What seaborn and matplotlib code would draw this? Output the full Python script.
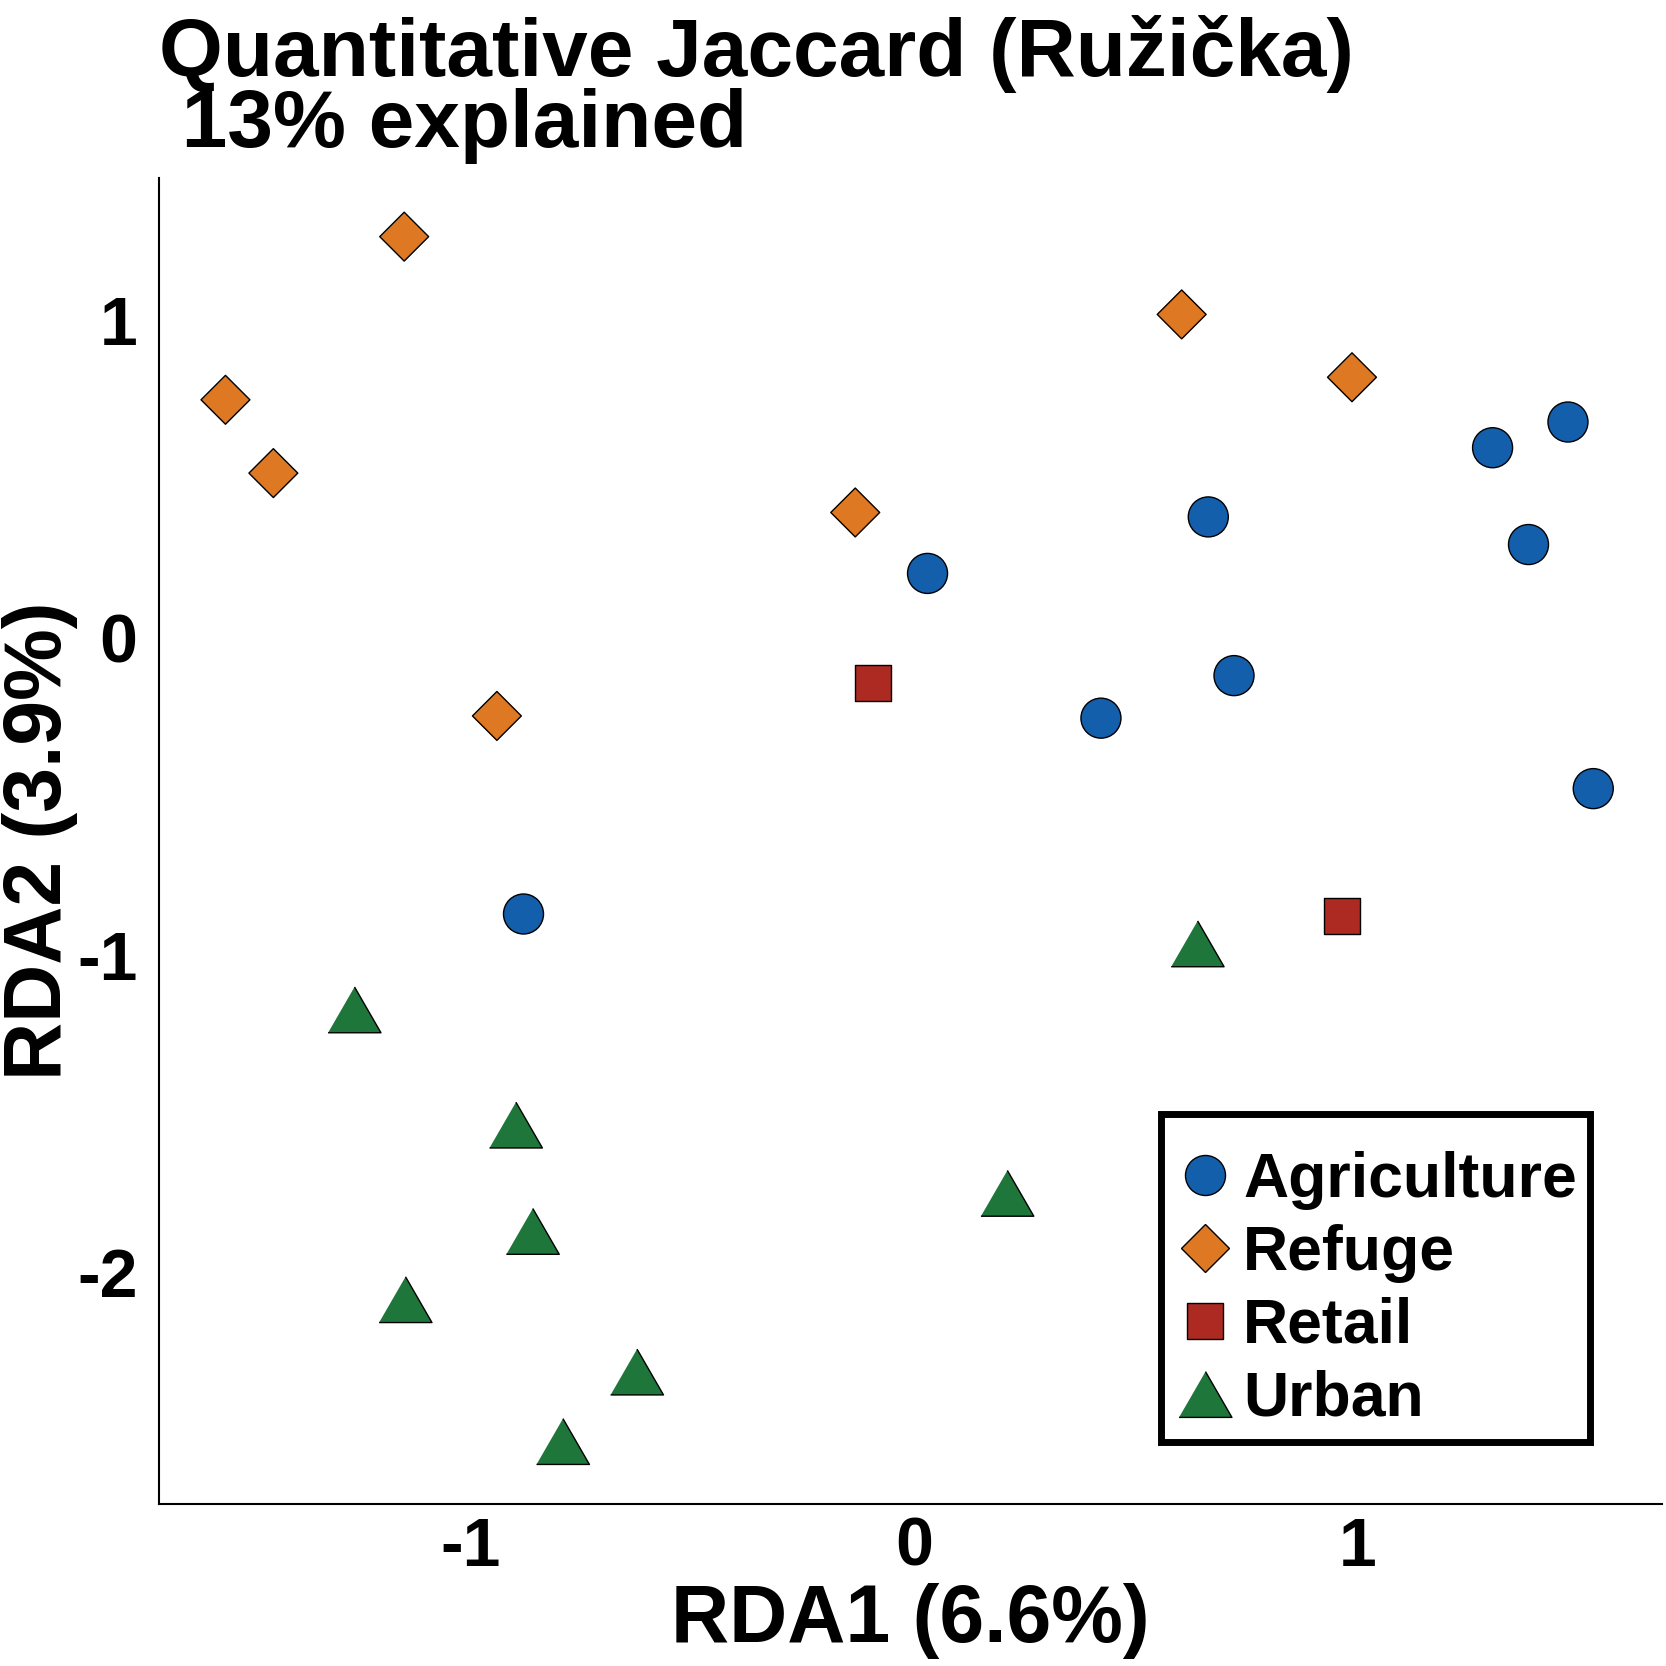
import pandas as pd
import matplotlib.pyplot as plt
from matplotlib.lines import Line2D
import seaborn as sns

# RDA site scores
groups = ["Agriculture", "Refuge", "Retail", "Urban"]

agri_x = [0.031, 0.664, 1.305, 1.475, 1.386, 0.722, 0.422, 1.532, -0.880]
agri_y = [0.201, 0.379, 0.597, 0.678, 0.292, -0.121, -0.255, -0.477, -0.872]

refuge_x = [-1.149, -1.552, -1.444, 0.604, 0.988, -0.132, -0.940]
refuge_y = [1.262, 0.748, 0.517, 1.017, 0.819, 0.393, -0.248]

retail_x = [-0.091, 0.966]
retail_y = [-0.144, -0.879]

urban_x = [-1.261, -0.897, -0.859, -1.146, -0.624, -0.791, 0.211, 0.640]
urban_y = [-1.174, -1.537, -1.872, -2.087, -2.315, -2.534, -1.752, -0.966]

xticks = [-1, 0, 1]
yticks = [-2, -1, 0, 1]

# build long table for seaborn
frames = []
for g, xs, ys in zip(groups,
                     [agri_x, refuge_x, retail_x, urban_x],
                     [agri_y, refuge_y, retail_y, urban_y]):
    frames.append(pd.DataFrame({"RDA1": xs, "RDA2": ys, "site": g}))
df = pd.concat(frames, ignore_index=True)

tri = [(-1, -0.866), (1, -0.866), (0, 0.866)]
palette = {"Agriculture": "#135FAC", "Refuge": "#DE7822",
           "Retail": "#AC2A22", "Urban": "#1E763A"}
markers = {"Agriculture": "o", "Refuge": "D", "Retail": "s", "Urban": tri}
sizes = {"Agriculture": 830, "Refuge": 620, "Retail": 670, "Urban": 1450}
msize = {k: v ** 0.5 for k, v in sizes.items()}

sns.set_style("white")
plt.rcParams["font.family"] = ["Liberation Sans", "DejaVu Sans"]
plt.rcParams["font.weight"] = "bold"
plt.rcParams["axes.unicode_minus"] = False
plt.rcParams["text.color"] = "black"
plt.rcParams["axes.labelcolor"] = "black"

fig = plt.figure(figsize=(16.66, 16.66), dpi=100)
ax = fig.add_axes([0.0954, 0.0972, 0.9022, 0.796])

sns.scatterplot(data=df, x="RDA1", y="RDA2", hue="site", style="site",
                size="site", palette=palette, markers=markers, sizes=sizes,
                edgecolor="black", linewidth=1.0, legend=False, ax=ax)

ax.set_xlim(-1.702, 1.687)
ax.set_ylim(-2.731, 1.447)
ax.set_xticks(xticks)
ax.set_yticks(yticks)
ax.set_xticklabels([str(t) for t in xticks])
ax.set_yticklabels([str(t) for t in yticks])
ax.tick_params(axis="both", which="major", labelsize=49, length=4.5,
               width=1.0, color="black", labelcolor="black")
ax.tick_params(axis="x", pad=4)
ax.tick_params(axis="y", pad=11)
for lab in ax.get_xticklabels() + ax.get_yticklabels():
    lab.set_fontweight("bold")

sns.despine(ax=ax)
for side in ["left", "bottom"]:
    ax.spines[side].set_linewidth(1.5)
    ax.spines[side].set_color("black")

ax.set_xlabel("RDA1 (6.6%)", fontsize=58, fontweight="bold", labelpad=2)
ax.set_ylabel("RDA2 (3.9%)", fontsize=58, fontweight="bold")
ax.yaxis.set_label_coords(-0.054, 0.5)
ax.set_title("Quantitative Jaccard (Ružička)\n 13% explained", loc="left",
             fontsize=59, fontweight="bold", linespacing=0.92, pad=22)

handles = [Line2D([0], [0], linestyle="none", marker=markers[g],
                  markersize=msize[g], markerfacecolor=palette[g],
                  markeredgecolor="black", markeredgewidth=1.0, label=g)
           for g in groups]
leg = ax.legend(handles=handles, loc="lower right",
                bbox_to_anchor=(0.952, 0.047), frameon=True, fancybox=False,
                framealpha=1, prop={"size": 45, "weight": "bold"},
                title=" ", title_fontsize=8, labelspacing=0.22,
                handletextpad=0.1, handlelength=1.0, borderpad=0.21,
                borderaxespad=0)
leg.get_frame().set_edgecolor("black")
leg.get_frame().set_linewidth(5)

fig.savefig("out.png", dpi=100, facecolor="white")
